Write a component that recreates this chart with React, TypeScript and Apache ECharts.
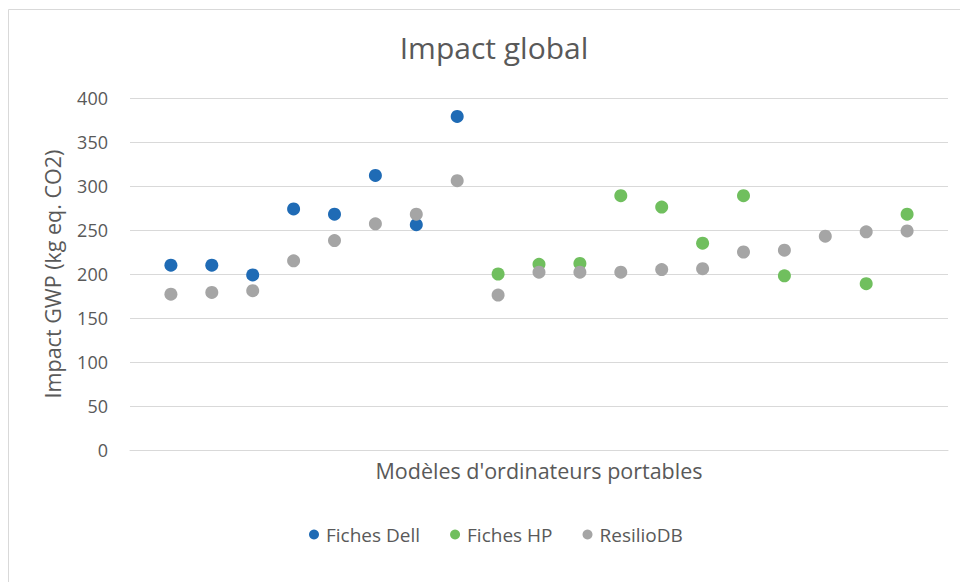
import React, { useEffect, useRef } from "react";
import * as echarts from "echarts";

// Impact GWP (kg eq. CO2) per laptop model, model number = position on the x axis
const dellModels = [1, 2, 3, 4, 5, 6, 7, 8];
const dellValues = [210, 210, 199, 274, 268, 312, 256, 379];

const hpModels = [9, 10, 11, 12, 13, 14, 15, 16, 18, 19];
const hpValues = [200, 211, 212, 289, 276, 235, 289, 198, 189, 268];

const resilioModels = [1, 2, 3, 4, 5, 6, 7, 8, 9, 10, 11, 12, 13, 14, 15, 16, 17, 18, 19];
const resilioValues = [177, 179, 181, 215, 238, 257, 268, 306, 176, 202, 202, 202, 205, 206, 225, 227, 243, 248, 249];

const seriesNames = ["Fiches Dell", "Fiches HP", "ResilioDB"];
const seriesColors = ["#1F6BB5", "#70BF5E", "#A5A5A5"];

const yTicks = { min: 0, max: 400, interval: 50 };

const FONT = "'Open Sans', 'Noto Sans', sans-serif";
const TEXT = "#595959";

const pairs = (xs: number[], ys: number[]) => xs.map((x, i) => [x, ys[i]]);

export default function App() {
  const ref = useRef<HTMLDivElement>(null);

  useEffect(() => {
    if (!ref.current) return;
    const chart = echarts.init(ref.current, null, { renderer: "svg" });
    const sets = [
      pairs(dellModels, dellValues),
      pairs(hpModels, hpValues),
      pairs(resilioModels, resilioValues),
    ];
    chart.setOption({
      animation: false,
      backgroundColor: "#ffffff",
      textStyle: { fontFamily: FONT },
      graphic: [
        {
          type: "rect",
          shape: { x: 8.5, y: 9.5, width: 1200, height: 1200 },
          style: { fill: "none", stroke: "#D9D9D9", lineWidth: 1 },
          silent: true,
        },
      ],
      title: {
        text: "Impact global",
        left: 489,
        textAlign: "center",
        top: 27,
        textStyle: { fontFamily: FONT, fontSize: 30, fontWeight: "normal", color: TEXT },
      },
      legend: {
        bottom: 33,
        left: 304,
        icon: "circle",
        itemWidth: 10,
        itemHeight: 10,
        itemGap: 30,
        data: seriesNames,
        textStyle: { fontFamily: FONT, fontSize: 19, color: TEXT, padding: [0, 0, 0, 2] },
      },
      grid: { left: 130, right: 12, top: 98, bottom: 132, containLabel: false },
      xAxis: {
        type: "value",
        min: 0,
        max: 20,
        name: "Modèles d'ordinateurs portables",
        nameLocation: "middle",
        nameGap: 9,
        nameTextStyle: { fontFamily: FONT, fontSize: 21.5, color: TEXT },
        axisLine: { show: true, lineStyle: { color: "#D9D9D9" } },
        axisTick: { show: false },
        axisLabel: { show: false },
        splitLine: { show: false },
      },
      yAxis: {
        type: "value",
        min: yTicks.min,
        max: yTicks.max,
        interval: yTicks.interval,
        name: "Impact GWP (kg eq. CO2)",
        nameLocation: "middle",
        nameGap: 67,
        nameTextStyle: { fontFamily: FONT, fontSize: 21.5, color: TEXT },
        axisLine: { show: false },
        axisTick: { show: false },
        axisLabel: { margin: 22, fontFamily: FONT, fontSize: 18, color: TEXT },
        splitLine: { lineStyle: { color: "#D9D9D9", width: 1 } },
      },
      series: seriesNames.map((name, i) => ({
        name,
        type: "scatter",
        data: sets[i],
        symbol: "circle",
        symbolSize: 13,
        itemStyle: { color: seriesColors[i], opacity: 1 },
      })),
    });
    return () => chart.dispose();
  }, []);

  return (
    <div
      ref={ref}
      style={{ position: "fixed", left: 0, top: 0, width: 960, height: 582 }}
    />
  );
}
